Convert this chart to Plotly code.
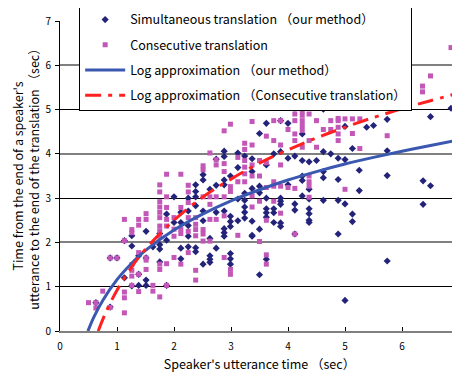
import plotly.graph_objects as go

# ---- data ----
sim_x = [0.63, 0.88, 0.88, 1.0, 1.13, 1.13, 1.26, 1.26, 1.26, 1.38, 1.38, 1.38,
         1.51, 1.51, 1.51, 1.51, 1.63, 1.75, 1.75, 1.75, 1.75, 1.87, 1.87, 1.87,
         2.0, 2.0, 2.12, 2.12, 2.12, 2.12, 2.25, 2.25, 2.25, 2.25, 2.25,
         2.38, 2.38, 2.38, 2.38, 2.38, 2.38, 2.51, 2.51, 2.51, 2.51, 2.51,
         2.63, 2.63, 2.63, 2.63, 2.63, 2.74, 2.74, 2.74, 2.74,
         2.88, 2.88, 2.88, 2.88, 2.88, 2.88, 2.88, 2.88,
         2.99, 2.99, 2.99, 2.99, 2.99, 2.99, 2.99, 3.12, 3.12, 3.12, 3.12,
         3.24, 3.24, 3.24, 3.24, 3.24, 3.24, 3.37, 3.37, 3.37, 3.37, 3.37, 3.37,
         3.5, 3.5, 3.5, 3.5, 3.5, 3.62, 3.62, 3.62, 3.62, 3.62, 3.62, 3.62,
         3.75, 3.75, 3.75, 3.75, 3.87, 3.87, 3.87, 3.87, 3.87, 3.87, 3.87,
         4.0, 4.0, 4.0, 4.12, 4.12, 4.12, 4.12, 4.12, 4.25, 4.25, 4.25, 4.25, 4.25,
         4.37, 4.37, 4.37, 4.37, 4.37, 4.37, 4.37, 4.5, 4.62, 4.62, 4.62, 4.62, 4.62,
         4.75, 4.88, 4.88, 4.88, 4.88, 5.0, 5.0, 5.0, 5.0, 5.13, 5.13, 5.13,
         5.25, 5.25, 5.38, 5.5, 5.63, 5.74, 5.74, 5.74, 5.74, 6.37, 6.37,
         6.5, 6.5, 6.86]
sim_y = [0.64, 0.54, 1.65, 1.65, 1.2, 2.04, 2.15, 1.92, 1.02, 1.03, 1.28, 1.7,
         2.25, 1.15, 1.03, 1.65, 1.9, 1.95, 1.85, 1.56, 2.2, 1.03, 2.64, 2.05,
         2.45, 3.03, 2.68, 2.45, 1.87, 1.63, 2.71, 2.38, 2.14, 1.9, 3.0,
         3.15, 3.03, 2.83, 1.88, 1.79, 3.3, 3.41, 2.71, 2.49, 1.51, 3.53,
         1.7, 1.62, 1.55, 2.09, 3.2, 3.29, 2.68, 1.87, 3.88,
         3.41, 3.3, 2.71, 2.31, 2.22, 2.14, 4.06, 3.94,
         2.59, 2.47, 2.36, 1.75, 1.63, 1.51, 3.5, 2.98, 2.49, 4.02, 3.69,
         3.11, 2.95, 2.8, 2.68, 2.55, 3.95, 3.22, 2.48, 2.14, 2.16, 3.89, 3.6,
         3.27, 3.12, 2.3, 1.27, 4.46, 3.0, 2.76, 2.67, 2.57, 1.62, 3.75, 4.69,
         2.76, 2.67, 2.45, 4.0, 3.0, 2.93, 2.86, 2.44, 2.36, 4.75, 4.05,
         4.69, 3.9, 3.3, 2.87, 2.73, 2.19, 5.03, 3.95, 3.5, 3.4, 3.05, 4.45, 3.85,
         2.98, 2.76, 2.65, 2.5, 2.45, 3.82, 3.2, 3.85, 3.46, 2.95, 5.01, 4.05, 3.6,
         4.0, 3.42, 2.95, 2.19, 3.9, 2.87, 0.69, 4.62, 3.87, 2.64, 2.47, 4.12,
         3.17, 3.63, 4.6, 4.64, 5.07, 4.78, 4.07, 3.51, 1.58, 3.39, 2.86,
         3.28, 4.84, 5.03]

con_x = [0.5, 0.63, 0.63, 0.75, 0.88, 0.88, 1.0, 1.13, 1.13, 1.13, 1.13, 1.13,
         1.26, 1.26, 1.26, 1.26, 1.26, 1.26, 1.38, 1.38, 1.38, 1.38, 1.38,
         1.51, 1.51, 1.51, 1.51, 1.51, 1.63, 1.63,
         1.75, 1.75, 1.75, 1.75, 1.75, 1.75, 1.75, 1.75, 1.75, 1.75, 1.75, 1.75,
         1.87, 1.87, 1.87, 1.87, 1.87, 1.87, 1.87, 2.0, 2.0, 2.0, 2.0,
         2.12, 2.12, 2.12, 2.12, 2.12, 2.25, 2.25, 2.25, 2.25, 2.25, 2.25,
         2.38, 2.38, 2.38, 2.38, 2.38, 2.38, 2.51, 2.51, 2.51, 2.51, 2.51, 2.51,
         2.63, 2.63, 2.63, 2.63, 2.63, 2.74, 2.74, 2.74, 2.74,
         2.88, 2.88, 2.88, 2.88, 2.88, 2.88, 2.99, 2.99, 2.99, 2.99, 2.99,
         3.12, 3.12, 3.12, 3.24, 3.24, 3.24, 3.24, 3.24, 3.24,
         3.37, 3.37, 3.37, 3.37, 3.37, 3.37, 3.5, 3.5, 3.5, 3.5,
         3.62, 3.62, 3.62, 3.62, 3.62, 3.62, 3.75, 3.75, 3.75, 3.75, 3.75,
         3.87, 3.87, 3.87, 3.87, 3.87, 4.0, 4.0, 4.12, 4.12, 4.12, 4.12, 4.12, 4.12,
         4.25, 4.25, 4.25, 4.25, 4.25, 4.25, 4.37, 4.37, 4.37, 4.37, 4.37, 4.37, 4.37,
         4.5, 4.5, 4.62, 4.75, 4.75, 4.88, 4.88, 4.88, 4.88, 4.88,
         5.0, 5.0, 5.13, 5.13, 5.26, 5.26, 5.74, 6.36, 6.36, 6.5, 6.86]
con_y = [0.64, 0.64, 0.52, 0.9, 0.53, 1.65, 1.65, 2.52, 2.04, 0.88, 0.75, 0.41,
         2.29, 2.22, 1.5, 1.37, 1.24, 1.03, 2.52, 2.39, 1.77, 1.28, 0.89,
         2.65, 2.52, 1.65, 1.39, 1.6, 1.03, 0.9,
         3.14, 2.92, 2.8, 2.68, 2.56, 2.37, 2.26, 2.14, 1.51, 1.39, 0.77, 3.3,
         3.54, 3.03, 2.79, 2.52, 2.37, 1.52, 1.03, 2.56, 2.3, 2.14, 1.66,
         3.54, 2.79, 2.3, 2.2, 1.51, 3.14, 2.9, 2.56, 2.25, 1.77, 3.29,
         2.56, 2.41, 2.29, 2.15, 1.37, 1.15, 3.03, 3.64, 2.29, 2.19, 2.03, 3.73,
         3.03, 2.86, 2.52, 2.03, 4.02, 3.03, 2.52, 3.87, 3.75,
         3.03, 2.6, 1.66, 4.52, 3.78, 3.6, 3.26, 3.15, 1.39, 1.28, 4.67,
         3.37, 2.16, 3.92, 3.37, 4.24, 4.1, 3.85, 3.7, 3.55,
         3.5, 3.05, 2.8, 4.73, 4.2, 3.75, 2.93, 2.02, 3.85, 3.5,
         3.24, 2.5, 1.72, 1.51, 3.8, 4.4, 3.37, 3.27, 2.93, 4.75, 4.3,
         3.27, 2.66, 4.75, 4.2, 3.75, 3.24, 4.55, 3.22, 2.19, 4.9, 4.75, 4.45, 4.3,
         4.98, 4.87, 4.75, 4.64, 4.53, 4.15, 3.5, 3.37, 3.27, 3.02, 5.06, 4.9, 4.3,
         4.75, 4.15, 4.55, 4.75, 4.55, 4.75, 4.6, 4.45, 4.3, 4.8,
         3.2, 4.79, 4.79, 4.46, 4.79, 4.12, 4.41, 5.53, 5.4, 5.76, 6.4]

# log approximation curves
fit_sim_x = [0.49, 0.6, 0.75, 1.0, 1.25, 1.5, 2.0, 2.5, 3.0, 3.5, 4.0, 4.5, 5.0, 5.5, 6.0, 6.5, 6.9]
fit_sim_y = [0.0, 0.33, 0.69, 1.16, 1.52, 1.82, 2.28, 2.64, 2.94, 3.19, 3.41, 3.60, 3.77, 3.92, 4.06, 4.19, 4.29]
fit_con_x = [0.67, 0.8, 1.0, 1.25, 1.5, 2.0, 2.5, 3.0, 3.5, 4.0, 4.5, 5.0, 5.5, 6.0, 6.5, 6.9]
fit_con_y = [0.0, 0.41, 0.92, 1.43, 1.85, 2.50, 3.02, 3.43, 3.79, 4.09, 4.36, 4.60, 4.82, 5.02, 5.20, 5.34]

x_ticks = [0, 1, 2, 3, 4, 5, 6, 7]
y_ticks = [0, 1, 2, 3, 4, 5, 6, 7]
y_grey_grid = [2, 4, 6, 7]

FONT = "Noto Sans CJK JP"

fig = go.Figure()
fig.add_trace(go.Scatter(
    x=sim_x, y=sim_y, mode="markers", name="Simultaneous translation （our method）",
    marker=dict(symbol="diamond", size=5.5, color="#23237A"), legendgroup="a"))
fig.add_trace(go.Scatter(
    x=con_x, y=con_y, mode="markers", name="Consecutive translation",
    marker=dict(symbol="square", size=5, color="#C257B8"), legendgroup="b"))
fig.add_trace(go.Scatter(
    x=fit_sim_x, y=fit_sim_y, mode="lines", name="Log approximation （our method）",
    line=dict(color="#3A58B0", width=3, shape="spline"), yaxis="y2", legendgroup="c"))
fig.add_trace(go.Scatter(
    x=fit_con_x, y=fit_con_y, mode="lines", name="Log approximation （Consecutive translation）",
    line=dict(color="#FF2020", width=3, dash="16px,7px,4px,7px", shape="spline"),
    yaxis="y2", legendgroup="d"))

# the page body adds an 8px offset, so the figure is 8px smaller than the window
fig.update_layout(
    width=452, height=372,
    margin=dict(l=52, r=1, t=13, b=49, autoexpand=False),
    paper_bgcolor="white", plot_bgcolor="white",
    font=dict(family=FONT, size=12, color="black"),
    showlegend=True,
    legend=dict(x=0.048, y=1.055, xanchor="left", yanchor="top",
                bgcolor="white", bordercolor="black", borderwidth=1,
                font=dict(size=12.5), itemwidth=40, tracegroupgap=6,
                traceorder="grouped"),
    xaxis=dict(range=[0, 7], tickvals=x_ticks, showgrid=False, zeroline=False,
               showline=True, linecolor="#808080", linewidth=2,
               ticks="inside", ticklen=4, tickcolor="black",
               tickfont=dict(size=10), automargin=False, ticklabelstandoff=5,
               title=dict(text="Speaker's utterance time （sec）", font=dict(size=12.5), standoff=8)),
    yaxis=dict(range=[0, 7], tickvals=y_ticks, showgrid=True, gridcolor="black", gridwidth=1,
               zeroline=False, showline=True, linecolor="black", linewidth=1,
               ticks="outside", ticklen=4, tickcolor="black",
               tickfont=dict(size=10), automargin=False, ticklabelstandoff=2,
               title=dict(text="Time from the end of a speaker's<br>utterance to the end of the translation （sec）",
                          font=dict(size=12.5), standoff=5)),
    yaxis2=dict(range=[0, 7], overlaying="y", tickvals=y_grey_grid, showticklabels=False,
                showgrid=True, gridcolor="#808080", gridwidth=2, zeroline=False,
                showline=False, ticks="", automargin=False),
)

fig.write_html("out.html")
